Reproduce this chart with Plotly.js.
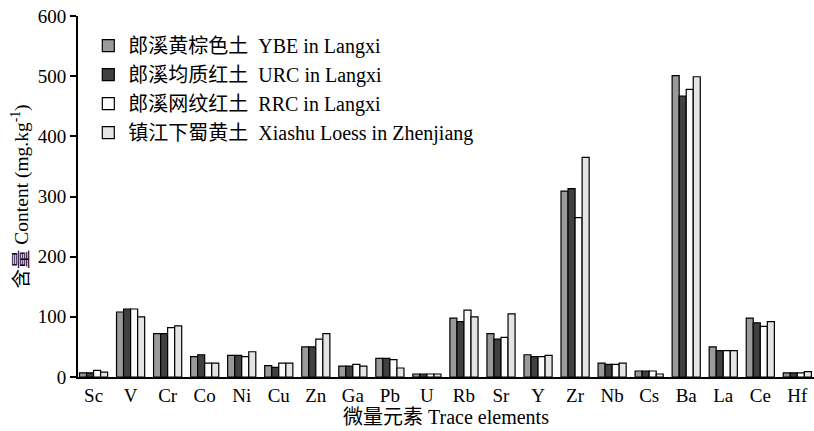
<!DOCTYPE html>
<html>
<head>
<meta charset="utf-8">
<script src="https://cdn.plot.ly/plotly-3.0.1.min.js"></script>
<style>html,body{margin:0;padding:0;background:#fff;}#chart{width:814px;height:431px;}</style>
</head>
<body>
<div id="chart"></div>
<script>
const elements = ["Sc","V","Cr","Co","Ni","Cu","Zn","Ga","Pb","U","Rb","Sr","Y","Zr","Nb","Cs","Ba","La","Ce","Hf"];
const ybe    = [7, 108, 72, 34, 36, 19, 50, 18, 31, 5, 98, 72, 37, 309, 23, 10, 501, 50, 98, 7];
const urc    = [7, 113, 72, 37, 36, 16, 50, 18, 31, 5, 92, 63, 34, 313, 21, 10, 467, 44, 90, 7];
const rrc    = [11, 113, 82, 23, 34, 23, 63, 21, 29, 5, 111, 66, 34, 265, 21, 10, 478, 44, 84, 7];
const xiashu = [8, 100, 85, 23, 42, 23, 72, 18, 15, 5, 100, 105, 36, 365, 23, 5, 499, 44, 92, 9];
const seriesNames = [
  "郎溪黄棕色土\u00a0\u00a0YBE in Langxi",
  "郎溪均质红土\u00a0\u00a0URC in Langxi",
  "郎溪网纹红土\u00a0\u00a0RRC in Langxi",
  "镇江下蜀黄土\u00a0\u00a0Xiashu Loess in Zhenjiang"
];
const seriesColors = ["#9a9a9a", "#404040", "#fbfbfb", "#e4e4e4"];
const seriesValues = [ybe, urc, rrc, xiashu];

const FONT = "'Liberation Serif', 'Times New Roman', 'Noto Sans CJK SC', serif";

const traces = seriesValues.map((vals, i) => ({
  type: "bar",
  name: seriesNames[i],
  x: elements,
  y: vals,
  marker: {color: seriesColors[i], line: {color: "#000", width: 1.2}},
  legendgroup: "g" + i
}));

const layout = {
  width: 814, height: 431,
  margin: {l: 78, r: 0, t: 16, b: 54},
  paper_bgcolor: "#fff", plot_bgcolor: "#fff",
  font: {family: FONT, color: "#000", size: 19},
  barmode: "group",
  bargap: 0.24,
  bargroupgap: 0,
  showlegend: true,
  legend: {
    x: 0.014, y: 0.972, xanchor: "left", yanchor: "top",
    bgcolor: "rgba(0,0,0,0)",
    font: {family: FONT, size: 20, color: "#000"},
    traceorder: "grouped",
    tracegroupgap: 0,
    itemwidth: 30
  },
  xaxis: {
    type: "category",
    range: [-0.42, 19.45],
    showline: true, linecolor: "#000", linewidth: 2,
    ticks: "", showgrid: false, zeroline: false,
    tickfont: {family: FONT, size: 19, color: "#000"},
    title: {text: "微量元素 Trace elements", font: {family: FONT, size: 20, color: "#000"}, standoff: 1}
  },
  yaxis: {
    range: [0, 600],
    tickvals: [0, 100, 200, 300, 400, 500, 600],
    showline: true, linecolor: "#000", linewidth: 2,
    ticks: "outside", ticklen: 6, tickwidth: 2, tickcolor: "#000",
    showgrid: false, zeroline: false,
    tickfont: {family: FONT, size: 19, color: "#000"},
    title: {text: "含量 Content (mg.kg<sup>-1</sup>)", font: {family: FONT, size: 19.5, color: "#000"}, standoff: 4}
  }
};

Plotly.newPlot("chart", traces, layout, {displayModeBar: false, staticPlot: true});
</script>
</body>
</html>
